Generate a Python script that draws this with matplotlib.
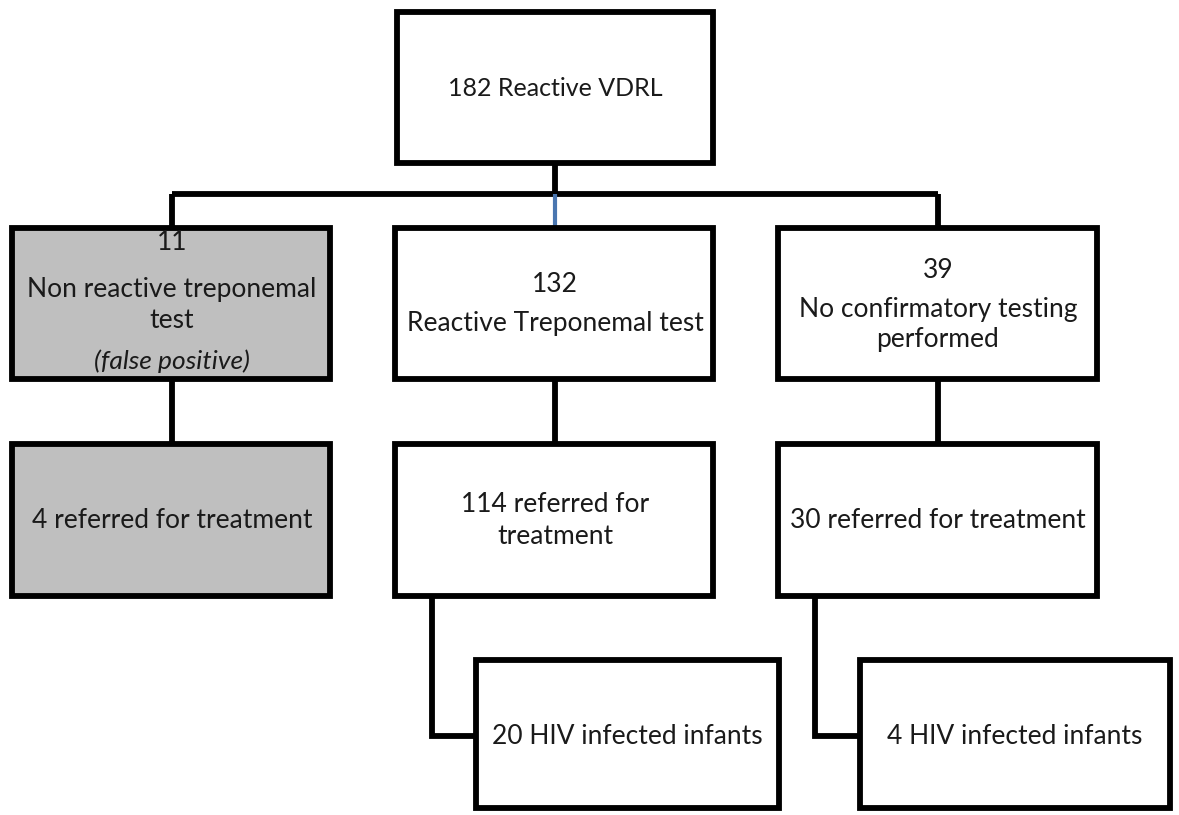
import matplotlib
matplotlib.use("Agg")
import matplotlib.pyplot as plt
from matplotlib.patches import Rectangle

plt.rcParams['font.family'] = ['Lato', 'DejaVu Sans']

# Node labels and counts
top_label = "182 Reactive VDRL"
row2_counts = ["11", "132", "39"]
row2_labels = [["Non reactive treponemal", "test"],
               ["Reactive Treponemal test"],
               ["No confirmatory testing", "performed"]]
row2_note = "(false positive)"
row3_labels = [["4 referred for treatment"],
               ["114 referred for", "treatment"],
               ["30 referred for treatment"]]
row4_labels = ["20 HIV infected infants", "4 HIV infected infants"]
gray_nodes = [True, False, False]

W, H = 1179, 815
fig = plt.figure(figsize=(W / 100, H / 100), dpi=100)
ax = fig.add_axes([0, 0, 1, 1])
ax.set_xlim(0, W)
ax.set_ylim(H, 0)
ax.axis('off')

LW = 4.2
FS = 19

def box(x0, y0, x1, y1, fill='white'):
    ax.add_patch(Rectangle((x0, y0), x1 - x0, y1 - y0, facecolor=fill,
                           edgecolor='black', linewidth=LW, zorder=3))

def line(xs, ys, color='black', lw=LW):
    ax.plot(xs, ys, color=color, linewidth=lw, solid_capstyle='butt',
            solid_joinstyle='miter', zorder=2)

def txt(x, y, s, **kw):
    ax.text(x, y, s, ha='center', va='center', fontsize=kw.pop('fs', FS),
            color='#1a1a1a', zorder=4, **kw)

# top box
box(397, 12, 713, 163)
txt(555, 88, top_label, fs=18)

cols = [(12, 330), (395, 713), (778, 1097)]
centers = [172, 555, 938]

# connectors top -> row2
line([555, 555], [163, 194])
line([172, 938], [194, 194])
line([172, 172], [194, 228])
line([938, 938], [194, 228])
line([555, 555], [194, 228], color='#4a76b0', lw=3)

# row2
for i, (x0, x1) in enumerate(cols):
    fill = '#bfbfbf' if gray_nodes[i] else 'white'
    box(x0, 228, x1, 379, fill)
    line([centers[i], centers[i]], [379, 444])

txt(172, 243, row2_counts[0])
txt(172, 289, row2_labels[0][0])
txt(172, 321, row2_labels[0][1])
txt(172, 361, row2_note, style='italic')

txt(555, 284, row2_counts[1])
txt(555, 323, row2_labels[1][0])

txt(938, 270, row2_counts[2])
txt(938, 309, row2_labels[2][0])
txt(938, 340, row2_labels[2][1])

# row3
for i, (x0, x1) in enumerate(cols):
    fill = '#bfbfbf' if gray_nodes[i] else 'white'
    box(x0, 444, x1, 596, fill)
txt(172, 520, row3_labels[0][0])
txt(555, 505, row3_labels[1][0])
txt(555, 536, row3_labels[1][1])
txt(938, 520, row3_labels[2][0])

# row4
row4_boxes = [(476, 779), (860, 1170)]
row4_stems = [432, 815]
for (x0, x1), sx, lab in zip(row4_boxes, row4_stems, row4_labels):
    line([sx, sx, x0], [596, 736, 736])
    box(x0, 660, x1, 808)
    txt((x0 + x1) / 2, 737, lab)

fig.savefig("out.png", dpi=100, facecolor='white')
